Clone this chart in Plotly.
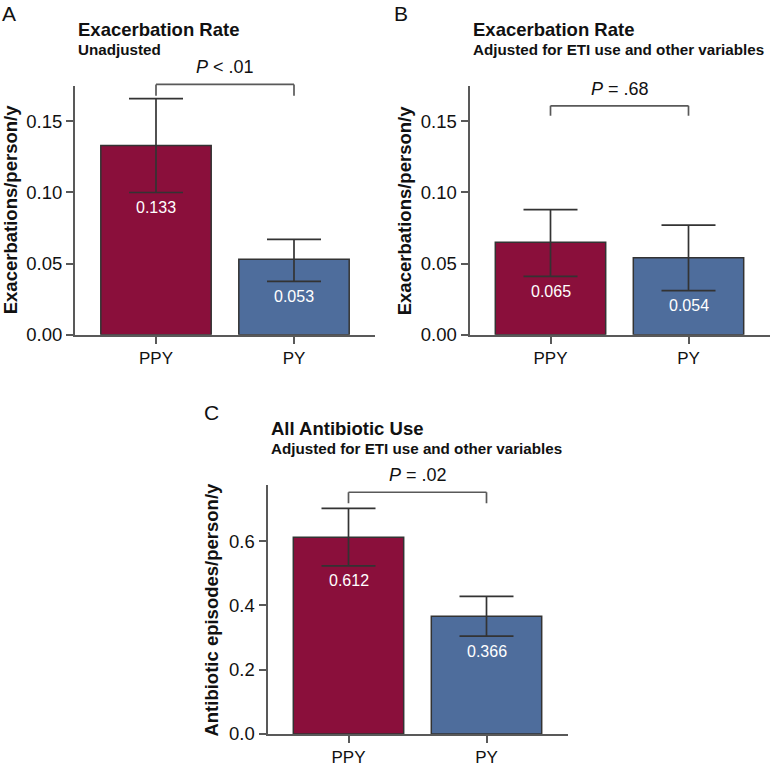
import plotly.graph_objects as go

W, H = 779, 776
FONT = "Liberation Sans, Arial, sans-serif"
RED = "#8a0f3b"
BLUE = "#4e6d9c"
EDGE = "#333333"
AXIS = "#595959"

categories = ["PPY", "PY"]

# panel A - exacerbation rate, unadjusted
rate_raw = [0.133, 0.053]
rate_raw_hi = [0.166, 0.067]
rate_raw_lo = [0.100, 0.0375]

# panel B - exacerbation rate, adjusted
rate_adj = [0.065, 0.054]
rate_adj_hi = [0.088, 0.077]
rate_adj_lo = [0.041, 0.031]

# panel C - antibiotic use, adjusted
abx_adj = [0.612, 0.366]
abx_adj_hi = [0.702, 0.428]
abx_adj_lo = [0.523, 0.304]

p_labels = ["<i>P</i> &lt; .01", "<i>P</i> = .68", "<i>P</i> = .02"]
bracket_top = [0.176, 0.161, 0.752]
bracket_leg = [0.168, 0.154, 0.718]


def px(x):
    return x / W


def py(y):
    return 1 - y / H


panels = [
    dict(vals=rate_raw, hi=rate_raw_hi, lo=rate_raw_lo, x0=75, y0=87, y1=339,
         yr=[0, 0.175], dtick=0.05, fmt=".2f",
         ytitle="Exacerbations/person/y", ytx=10,
         letter="A", lx=9, ly=14,
         title="Exacerbation Rate", sub="Unadjusted"),
    dict(vals=rate_adj, hi=rate_adj_hi, lo=rate_adj_lo, x0=469.5, y0=87, y1=339,
         yr=[0, 0.175], dtick=0.05, fmt=".2f",
         ytitle="Exacerbations/person/y", ytx=404,
         letter="B", lx=401, ly=14,
         title="Exacerbation Rate", sub="Adjusted for ETI use and other variables"),
    dict(vals=abx_adj, hi=abx_adj_hi, lo=abx_adj_lo, x0=267.5, y0=491.5, y1=743.5,
         yr=[0, 0.774], dtick=0.2, fmt=".1f",
         ytitle="Antibiotic episodes/person/y", ytx=212,
         letter="C", lx=211, ly=418,
         title="All Antibiotic Use", sub="Adjusted for ETI use and other variables"),
]

fig = go.Figure()
annotations = []
shapes = []

for i, p in enumerate(panels):
    n = "" if i == 0 else str(i + 1)
    xa, ya = "x" + n, "y" + n
    dom = [py(p["y1"]), py(p["y0"])]

    def yp(v, dom=dom, top=p["yr"][1]):
        # data value -> paper fraction (bracket sits above the axis range)
        return dom[0] + v / top * (dom[1] - dom[0])

    fig.add_trace(go.Bar(
        x=categories, y=p["vals"],
        xaxis=xa, yaxis=ya,
        width=0.8,
        marker=dict(color=[RED, BLUE], line=dict(color=EDGE, width=1.5)),
        error_y=dict(
            type="data", symmetric=False,
            array=[h - v for h, v in zip(p["hi"], p["vals"])],
            arrayminus=[v - l for v, l in zip(p["vals"], p["lo"])],
            color=EDGE, thickness=1.7, width=27,
        ),
        showlegend=False, hoverinfo="skip",
    ))

    # significance bracket
    line = dict(color=AXIS, width=1.7)
    top, leg = yp(bracket_top[i]), yp(bracket_leg[i])
    shapes += [
        dict(type="line", xref=xa, yref="paper", x0=0, x1=1, y0=top, y1=top, line=line),
        dict(type="line", xref=xa, yref="paper", x0=0, x1=0, y0=leg, y1=top, line=line),
        dict(type="line", xref=xa, yref="paper", x0=1, x1=1, y0=leg, y1=top, line=line),
    ]
    annotations.append(dict(
        x=0.5, y=top, xref=xa, yref="paper", text=p_labels[i],
        showarrow=False, yanchor="middle", yshift=17,
        font=dict(family=FONT, size=18, color="#111"),
    ))

    # value labels inside bars
    for c, v, lo in zip(categories, p["vals"], p["lo"]):
        annotations.append(dict(
            x=c, y=lo, xref=xa, yref=ya, text=f"{v:.3f}",
            showarrow=False, yanchor="middle", yshift=-15,
            font=dict(family=FONT, size=16, color="white"),
        ))

    x0, x1 = p["x0"], p["x0"] + 300
    fig.update_layout(**{
        ("xaxis" + n): dict(
            domain=[px(x0), px(x1)], anchor=ya, range=[-0.587, 1.587],
            showline=True, linecolor=AXIS, linewidth=2,
            ticks="outside", ticklen=7, tickwidth=2, tickcolor=AXIS,
            tickfont=dict(family=FONT, size=17, color="#111"),
            showgrid=False, zeroline=False, fixedrange=True,
        ),
        ("yaxis" + n): dict(
            domain=dom, anchor=xa, range=p["yr"],
            dtick=p["dtick"], tickformat=p["fmt"],
            showline=True, linecolor=AXIS, linewidth=2,
            ticks="outside", ticklen=7, tickwidth=2, tickcolor=AXIS,
            tickfont=dict(family=FONT, size=18.5, color="#111"),
            showgrid=False, zeroline=False, fixedrange=True,
        ),
    })

    # y title, panel letter, titles
    annotations.append(dict(
        x=px(p["ytx"]), y=py((p["y0"] + p["y1"]) / 2), xref="paper", yref="paper",
        text=f"<b>{p['ytitle']}</b>", textangle=-90, showarrow=False,
        xanchor="center", yanchor="middle",
        font=dict(family=FONT, size=18.5, color="#111"),
    ))
    annotations.append(dict(
        x=px(p["lx"]), y=py(p["ly"]), xref="paper", yref="paper",
        text=p["letter"], showarrow=False, xanchor="center", yanchor="middle",
        font=dict(family=FONT, size=21, color="#111"),
    ))
    ty = p["ly"] + 16
    annotations.append(dict(
        x=px(x0 + 1), y=py(ty), xref="paper", yref="paper",
        text=f"<b>{p['title']}</b>", showarrow=False, xanchor="left", yanchor="middle",
        font=dict(family=FONT, size=18.5, color="#111"),
    ))
    annotations.append(dict(
        x=px(x0 + 1), y=py(ty + 20), xref="paper", yref="paper",
        text=f"<b>{p['sub']}</b>", showarrow=False, xanchor="left", yanchor="middle",
        font=dict(family=FONT, size=15.2, color="#111"),
    ))

fig.update_layout(
    width=W, height=H,
    margin=dict(l=0, r=0, t=0, b=0),
    paper_bgcolor="white", plot_bgcolor="white",
    annotations=annotations,
    shapes=shapes,
)

# drop the default 8px body margin so the figure fills the window exactly
fig.write_html(
    "out.html",
    config={"displayModeBar": False},
    post_script="document.body.style.margin = '0';",
)
